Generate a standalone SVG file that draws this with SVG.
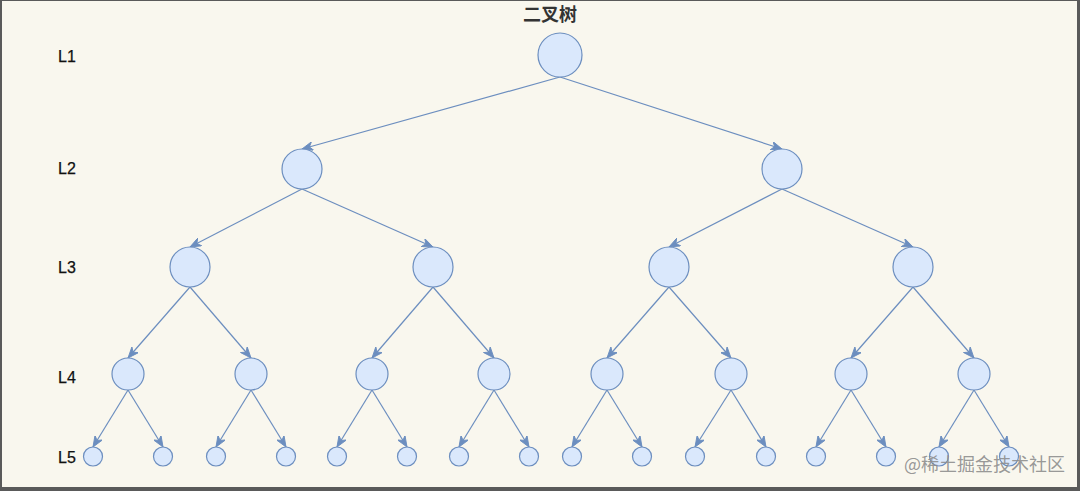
<svg xmlns="http://www.w3.org/2000/svg" width="1080" height="491" viewBox="0 0 1080 491">
<style>
.n{fill:#dae8fc;stroke:#6c8ebf;stroke-width:1.2}
.e{stroke:#6c8ebf;stroke-width:1.2;fill:none;marker-end:url(#arr)}
.lv{font-family:"Liberation Sans",Arial,sans-serif;font-size:16px;fill:#111;stroke:#111;stroke-width:0.25}
</style>
<defs>
<marker id="arr" markerUnits="userSpaceOnUse" viewBox="0 0 10 8" refX="10" refY="4" markerWidth="11" markerHeight="8.8" orient="auto">
<path d="M0,0 L10,4 L0,8 L3,4 Z" fill="#6c8ebf" stroke="#6c8ebf" stroke-width="0.8"/>
</marker>
</defs>
<rect x="0" y="0" width="1080" height="491" fill="#5a5a5a"/>
<rect x="2" y="1" width="1075" height="486" fill="#f9f7ee"/>
<text x="523" y="21" style="font-family:'Noto Sans CJK SC',sans-serif;font-size:18px;font-weight:bold;fill:#333">二叉树</text>
<g id="labels">
<text class="lv" x="58" y="62">L1</text>
<text class="lv" x="58" y="174">L2</text>
<text class="lv" x="58" y="273">L3</text>
<text class="lv" x="58" y="383">L4</text>
<text class="lv" x="58" y="463">L5</text>
</g>
<g id="connectors">
<line class="e" x1="560" y1="77" x2="302" y2="149"/>
<line class="e" x1="560" y1="77" x2="782" y2="149"/>
<line class="e" x1="302" y1="189" x2="190" y2="247"/>
<line class="e" x1="302" y1="189" x2="433" y2="247"/>
<line class="e" x1="782" y1="189" x2="669" y2="247"/>
<line class="e" x1="782" y1="189" x2="913" y2="247"/>
<line class="e" x1="190" y1="287" x2="128" y2="358"/>
<line class="e" x1="190" y1="287" x2="251" y2="358"/>
<line class="e" x1="433" y1="287" x2="372" y2="358"/>
<line class="e" x1="433" y1="287" x2="494" y2="358"/>
<line class="e" x1="669" y1="287" x2="607" y2="358"/>
<line class="e" x1="669" y1="287" x2="731" y2="358"/>
<line class="e" x1="913" y1="287" x2="851" y2="358"/>
<line class="e" x1="913" y1="287" x2="974" y2="358"/>
<line class="e" x1="128" y1="390" x2="93" y2="447"/>
<line class="e" x1="128" y1="390" x2="163" y2="447"/>
<line class="e" x1="251" y1="390" x2="216" y2="447"/>
<line class="e" x1="251" y1="390" x2="286" y2="447"/>
<line class="e" x1="372" y1="390" x2="337" y2="447"/>
<line class="e" x1="372" y1="390" x2="407" y2="447"/>
<line class="e" x1="494" y1="390" x2="459" y2="447"/>
<line class="e" x1="494" y1="390" x2="529" y2="447"/>
<line class="e" x1="607" y1="390" x2="572" y2="447"/>
<line class="e" x1="607" y1="390" x2="642" y2="447"/>
<line class="e" x1="731" y1="390" x2="695" y2="447"/>
<line class="e" x1="731" y1="390" x2="766" y2="447"/>
<line class="e" x1="851" y1="390" x2="816" y2="447"/>
<line class="e" x1="851" y1="390" x2="886" y2="447"/>
<line class="e" x1="974" y1="390" x2="939" y2="447"/>
<line class="e" x1="974" y1="390" x2="1009" y2="447"/>
</g>
<g id="n1"><circle class="n" cx="560" cy="55" r="22"/></g>
<g id="n2"><circle class="n" cx="302" cy="169" r="20"/></g>
<g id="n3"><circle class="n" cx="782" cy="169" r="20"/></g>
<g id="n4"><circle class="n" cx="190" cy="267" r="20"/></g>
<g id="n5"><circle class="n" cx="433" cy="267" r="20"/></g>
<g id="n6"><circle class="n" cx="669" cy="267" r="20"/></g>
<g id="n7"><circle class="n" cx="913" cy="267" r="20"/></g>
<g id="n8"><circle class="n" cx="128" cy="374" r="16"/></g>
<g id="n9"><circle class="n" cx="251" cy="374" r="16"/></g>
<g id="n10"><circle class="n" cx="372" cy="374" r="16"/></g>
<g id="n11"><circle class="n" cx="494" cy="374" r="16"/></g>
<g id="n12"><circle class="n" cx="607" cy="374" r="16"/></g>
<g id="n13"><circle class="n" cx="731" cy="374" r="16"/></g>
<g id="n14"><circle class="n" cx="851" cy="374" r="16"/></g>
<g id="n15"><circle class="n" cx="974" cy="374" r="16"/></g>
<g id="n16"><circle class="n" cx="93" cy="456.5" r="9.5"/></g>
<g id="n17"><circle class="n" cx="163" cy="456.5" r="9.5"/></g>
<g id="n18"><circle class="n" cx="216" cy="456.5" r="9.5"/></g>
<g id="n19"><circle class="n" cx="286" cy="456.5" r="9.5"/></g>
<g id="n20"><circle class="n" cx="337" cy="456.5" r="9.5"/></g>
<g id="n21"><circle class="n" cx="407" cy="456.5" r="9.5"/></g>
<g id="n22"><circle class="n" cx="459" cy="456.5" r="9.5"/></g>
<g id="n23"><circle class="n" cx="529" cy="456.5" r="9.5"/></g>
<g id="n24"><circle class="n" cx="572" cy="456.5" r="9.5"/></g>
<g id="n25"><circle class="n" cx="642" cy="456.5" r="9.5"/></g>
<g id="n26"><circle class="n" cx="695" cy="456.5" r="9.5"/></g>
<g id="n27"><circle class="n" cx="766" cy="456.5" r="9.5"/></g>
<g id="n28"><circle class="n" cx="816" cy="456.5" r="9.5"/></g>
<g id="n29"><circle class="n" cx="886" cy="456.5" r="9.5"/></g>
<g id="n30"><circle class="n" cx="939" cy="456.5" r="9.5"/></g>
<g id="n31"><circle class="n" cx="1009" cy="456.5" r="9.5"/></g>
<text x="904" y="471" style="font-family:'Noto Sans CJK SC',sans-serif;font-size:18px;fill:#8c8c8c;fill-opacity:0.9">@稀土掘金技术社区</text>
</svg>
